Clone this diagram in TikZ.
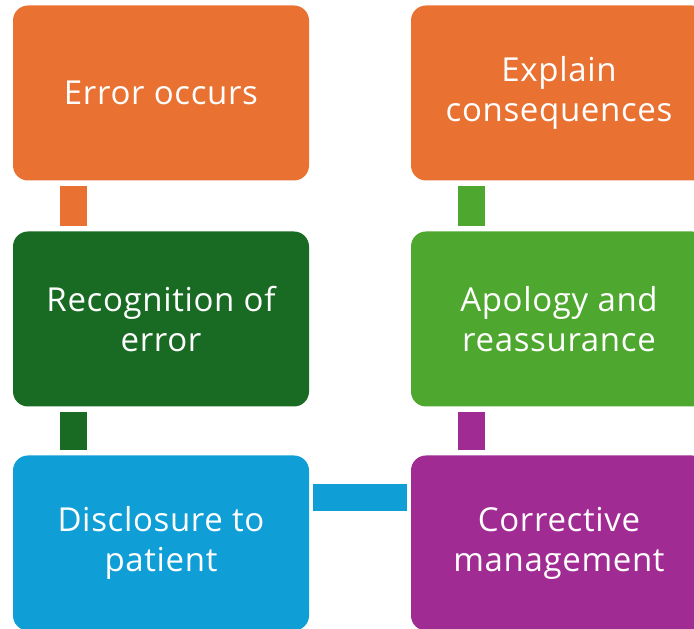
\documentclass[tikz,border=0pt]{standalone}
\usepackage{fontspec}
\setmainfont{Open Sans}[LetterSpace=2]
\definecolor{cOrange}{HTML}{E97132}
\definecolor{cDkGreen}{HTML}{196B24}
\definecolor{cBlue}{HTML}{0F9ED5}
\definecolor{cPurple}{HTML}{A02B93}
\definecolor{cGreen}{HTML}{4EA72E}
\tikzset{
  box/.style={rectangle, rounded corners=15pt, minimum width=296pt, minimum height=175pt,
    inner sep=0pt, text=white, align=center, font=\fontsize{33}{40}\selectfont},
  conn/.style={line width=27pt, shorten <=5pt, shorten >=5pt}
}
\begin{document}
\begin{tikzpicture}[x=1pt,y=1pt]
\useasboundingbox (0,0) rectangle (694,629);
\clip (0,0) rectangle (694,629);
\node[box, fill=cOrange] (err) at (161,536) {Error occurs};
\node[box, fill=cDkGreen] (rec) at (161,310) {Recognition of\\error};
\node[box, fill=cBlue] (dis) at (161,86) {Disclosure to\\patient};
\node[box, fill=cPurple] (cor) at (559,86) {Corrective\\management};
\node[box, fill=cGreen] (apo) at (559,310) {Apology and\\reassurance};
\node[box, fill=cOrange] (exp) at (559,536) {Explain\\consequences};
\draw[conn, cOrange] ([xshift=60.5pt]err.south west) -- ([xshift=60.5pt]rec.north west);
\draw[conn, cDkGreen] ([xshift=60.5pt]rec.south west) -- ([xshift=60.5pt]dis.north west);
\draw[conn, cBlue, shorten <=4pt, shorten >=4pt] ([yshift=-42pt]dis.north east) -- ([yshift=-42pt]cor.north west);
\draw[conn, cPurple] ([xshift=61pt]cor.north west) -- ([xshift=61pt]apo.south west);
\draw[conn, cGreen] ([xshift=61pt]apo.north west) -- ([xshift=61pt]exp.south west);
\end{tikzpicture}
\end{document}
